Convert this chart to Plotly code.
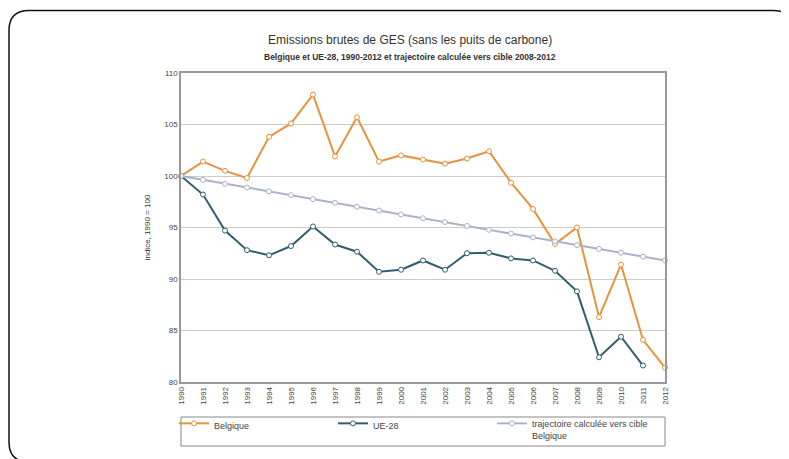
import plotly.graph_objects as go

years = list(range(1990, 2013))
belgique = [100, 101.4, 100.5, 99.8, 103.8, 105.1, 107.9, 101.9, 105.7, 101.4, 102.0,
            101.6, 101.2, 101.7, 102.4, 99.35, 96.8, 93.4, 95.0, 86.3, 91.4, 84.1, 81.4]
ue28 = [100, 98.2, 94.7, 92.8, 92.3, 93.2, 95.1, 93.35, 92.65, 90.7, 90.9,
        91.8, 90.9, 92.5, 92.55, 92.0, 91.8, 90.8, 88.8, 82.4, 84.4, 81.6, None]
trajectoire = [100, 99.63, 99.25, 98.88, 98.51, 98.14, 97.76, 97.39, 97.02, 96.65, 96.27,
               95.90, 95.53, 95.15, 94.78, 94.41, 94.04, 93.66, 93.29, 92.92, 92.55, 92.17, 91.8]
year_labels = [str(y) for y in years]
y_ticks = [80, 85, 90, 95, 100, 105, 110]

OFF = 8  # page body margin
W, H = 789 - OFF, 459 - OFF
# plot area in page pixels
L, R, T, B = 181, 665, 73, 382

def px(x):
    return (x - L) / (R - L)

def py(y):
    return (B - y) / (B - T)

FONT = "Liberation Sans, Arial, sans-serif"
C_BE = "#E8923D"
C_EU = "#2F5F6E"
C_TR = "#A8B3C7"

fig = go.Figure()

def add(name, vals, color):
    fig.add_trace(go.Scatter(
        x=years, y=vals, name=name, mode="lines+markers",
        line=dict(color=color, width=2),
        marker=dict(symbol="circle", size=5, color="white",
                    line=dict(color=color, width=1)),
        cliponaxis=False, connectgaps=False,
    ))

add("Belgique", belgique, C_BE)
add("UE-28", ue28, C_EU)
add("trajectoire calculée vers cible<br>Belgique", trajectoire, C_TR)

shapes = []
# legend box
shapes.append(dict(type="rect", xref="paper", yref="paper",
                   x0=px(181), x1=px(665), y0=py(417), y1=py(446),
                   line=dict(color="#888888", width=1), fillcolor="rgba(0,0,0,0)"))
# outer rounded frame (extends past the right/bottom of the view)
x0, y0, x1, y1, r = 9, 10.5, 793, 462, 20
path = (f"M {px(x0)},{py(y0 + r)} Q {px(x0)},{py(y0)} {px(x0 + r)},{py(y0)} "
        f"L {px(x1 - r)},{py(y0)} Q {px(x1)},{py(y0)} {px(x1)},{py(y0 + r)} "
        f"L {px(x1)},{py(y1 - r)} Q {px(x1)},{py(y1)} {px(x1 - r)},{py(y1)} "
        f"L {px(x0 + r)},{py(y1)} Q {px(x0)},{py(y1)} {px(x0)},{py(y1 - r)} Z")
shapes.append(dict(type="path", xref="paper", yref="paper", path=path,
                   line=dict(color="#111111", width=1.5)))

annotations = [
    dict(text="Emissions brutes de GES (sans les puits de carbone)",
         xref="paper", yref="paper", x=px(410), y=py(40), xanchor="center", yanchor="middle",
         showarrow=False, font=dict(family=FONT, size=12, color="#333333")),
    dict(text="<b>Belgique et UE-28, 1990-2012 et trajectoire calculée vers cible 2008-2012</b>",
         xref="paper", yref="paper", x=px(410), y=py(57), xanchor="center", yanchor="middle",
         showarrow=False, font=dict(family=FONT, size=8.5, color="#333333")),
]

fig.update_layout(
    width=W, height=H,
    margin=dict(l=L - OFF, r=W - (R - OFF), t=T - OFF, b=H - (B - OFF), autoexpand=False),
    paper_bgcolor="white", plot_bgcolor="white",
    font=dict(family=FONT, size=8, color="#444444"),
    showlegend=True,
    legend=dict(orientation="h", x=px(174), y=py(411), xanchor="left", yanchor="top",
                bgcolor="rgba(0,0,0,0)", borderwidth=0,
                entrywidth=114, entrywidthmode="pixels", valign="top",
                font=dict(family=FONT, size=9, color="#444444"),
                itemwidth=30, traceorder="normal"),
    shapes=shapes,
    annotations=annotations,
    xaxis=dict(range=[1990, 2012], tickmode="array", tickvals=years, ticktext=year_labels,
               tickangle=-90, showgrid=False, zeroline=False,
               showline=True, linecolor="#999999", linewidth=1.5, mirror=True,
               ticks="", tickfont=dict(size=8, color="#444444"), fixedrange=True),
    yaxis=dict(range=[80, 110], tickmode="array", tickvals=y_ticks,
               showgrid=True, gridcolor="#CCCCCC", gridwidth=1, zeroline=False,
               showline=True, linecolor="#999999", linewidth=1.5, mirror=True,
               ticks="", tickfont=dict(size=8, color="#444444"),
               title=dict(text="indice, 1990 = 100", font=dict(size=8, color="#333333"), standoff=12)),
)

fig.write_html("out.html")
